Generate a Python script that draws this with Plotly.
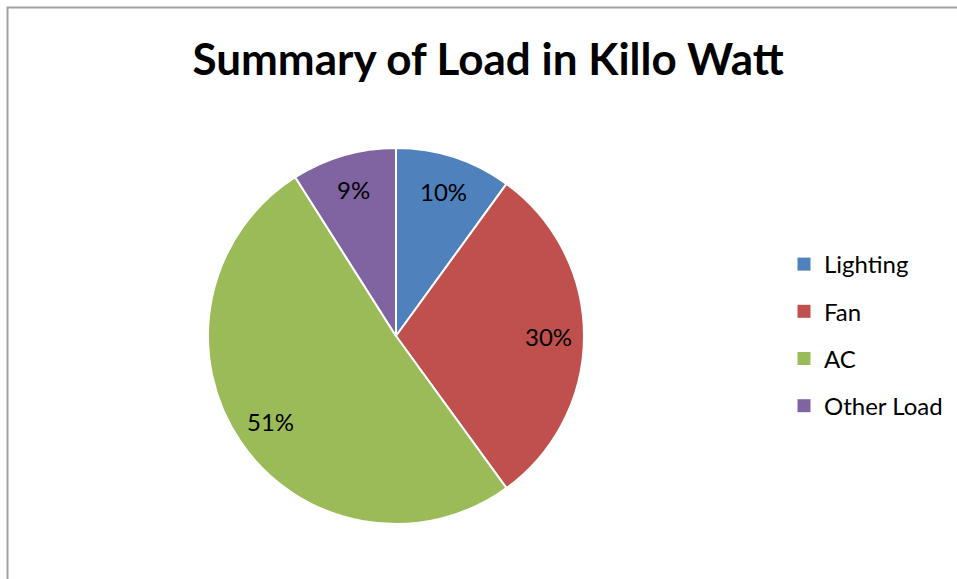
import math
import plotly.graph_objects as go

categories = ["Lighting", "Fan", "AC", "Other Load"]
values = [10, 30, 51, 9]
colors = ["#4F81BD", "#C0504D", "#9BBB59", "#8064A2"]
title_text = "Summary of Load in Killo Watt"

W, H = 957, 579
cx, cy, r = 396, 336, 188
label_frac = 0.81

fig = go.Figure()
fig.add_trace(go.Pie(
    labels=categories, values=values, sort=False, direction="clockwise", rotation=0,
    marker=dict(colors=colors, line=dict(color="white", width=2)),
    textinfo="none",
    domain=dict(x=[(cx - r) / W, (cx + r) / W], y=[(H - cy - r) / H, (H - cy + r) / H]),
    showlegend=False, hoverinfo="label+percent",
))
for i, (c, col) in enumerate(zip(categories, colors)):
    fig.add_trace(go.Scatter(
        x=[None], y=[None], mode="markers", name=c, legendgroup=f"g{i}",
        marker=dict(symbol="square", size=13, color=col), showlegend=True,
    ))

# percentage labels placed at the middle angle of each slice
total = sum(values)
annotations = []
cum = 0
for v in values:
    mid = (cum + v / 2) / total * 2 * math.pi
    cum += v
    px = cx + label_frac * r * math.sin(mid)
    py = cy - label_frac * r * math.cos(mid)
    annotations.append(dict(
        text=f"{round(v / total * 100)}%", x=px / W, y=1 - py / H, xref="paper", yref="paper",
        showarrow=False, xanchor="center", yanchor="middle",
        font=dict(family="Lato", size=24, color="#000000"),
    ))

fig.update_layout(
    width=W, height=H, margin=dict(l=0, r=0, t=0, b=0),
    paper_bgcolor="white", plot_bgcolor="white",
    title=dict(text=title_text, x=488 / W, xanchor="center", y=1 - 60 / H, yanchor="middle",
               font=dict(family="Lato", size=44, color="#000000", weight="bold")),
    xaxis=dict(visible=False, domain=[0.99, 1]), yaxis=dict(visible=False, domain=[0.99, 1]),
    legend=dict(x=784 / W, xanchor="left", y=1 - 242 / H, yanchor="top",
                font=dict(family="Lato", size=24, color="#000000"),
                tracegroupgap=13, bgcolor="rgba(0,0,0,0)"),
    annotations=annotations,
    shapes=[dict(type="rect", xref="paper", yref="paper", x0=7.5 / W, x1=1.02,
                 y0=-0.02, y1=1 - 7.5 / H, line=dict(color="#A0A0A0", width=2), layer="below")],
)
fig.write_html("out.html")
